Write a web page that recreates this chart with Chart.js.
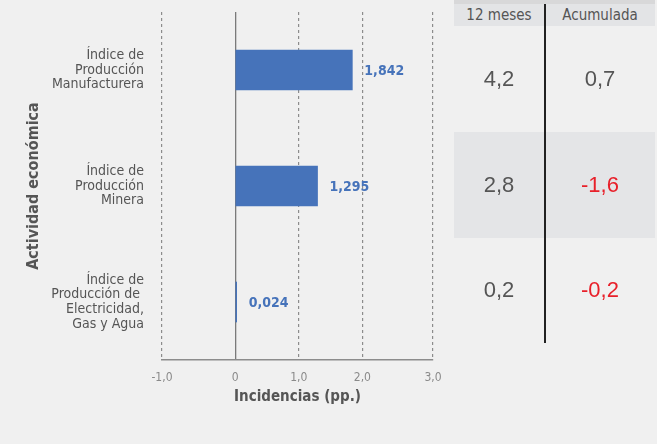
<!DOCTYPE html>
<html><head><meta charset="utf-8">
<script src="https://cdn.jsdelivr.net/npm/chart.js@4/dist/chart.umd.min.js"></script>
<style>
html,body{margin:0;padding:0;background:#f0f0f0;}
body{width:657px;height:444px;overflow:hidden;position:relative;}
#wrap{position:absolute;left:0;top:0;width:657px;height:444px;}
#tbl{position:absolute;left:454px;top:0;width:201px;height:344px;}
#tbl .band{position:absolute;left:0;top:0;width:201px;height:4px;background:#d8d8d9;}
#tbl .head{position:absolute;left:0;top:4px;width:201px;height:22px;background:#e3e4e6;}
#tbl .row{position:absolute;left:0;width:201px;height:106px;}
#tbl .shade{background:#e4e5e7;}
#tbl .cell{position:absolute;top:0;height:100%;display:flex;align-items:center;justify-content:center;}
#tbl .c0{left:0;width:90px;}
#tbl .c1{left:91px;width:110px;}
#tbl .h{font-family:"Liberation Sans Narrow","DejaVu Sans Condensed",Roboto,sans-serif;font-size:15px;color:#555;}
#tbl .v{font-family:"Liberation Sans",Arial,sans-serif;font-size:22px;color:#555;}
#tbl .neg{color:#e8202a;}
#tbl .divider{position:absolute;left:90px;top:4px;width:1.5px;height:339px;background:#222;}
</style></head><body>
<div id="wrap"><canvas id="c" width="657" height="444"></canvas></div>
<div id="tbl"></div>
<script>
const categories = [
  ['Índice de', 'Producción', 'Manufacturera'],
  ['Índice de', 'Producción', 'Minera'],
  ['Índice de', 'Producción de ', 'Electricidad,', 'Gas y Agua']
];
const incidencias = [1.842, 1.295, 0.024];
const xTickValues = [-1, 0, 1, 2, 3];
const xTickLabels = ['-1,0', '0', '1,0', '2,0', '3,0'];
const tableHeaders = ['12 meses', 'Acumulada'];
const var12Meses = [4.2, 2.8, 0.2];
const varAcumulada = [0.7, -1.6, -0.2];

const fmt = (v, d) => v.toFixed(d).replace('.', ',');
const condensed = '"Liberation Sans Narrow","DejaVu Sans Condensed",Roboto,sans-serif';

// Table (HTML text)
const tbl = document.getElementById('tbl');
let html = '<div class="band"></div><div class="head">' +
  '<div class="cell c0 h">' + tableHeaders[0] + '</div>' +
  '<div class="cell c1 h">' + tableHeaders[1] + '</div></div>';
var12Meses.forEach((v, i) => {
  const a = varAcumulada[i];
  html += '<div class="row' + (i === 1 ? ' shade' : '') + '" style="top:' + (26 + i * 105.7) + 'px">' +
    '<div class="cell c0 v' + (v < 0 ? ' neg' : '') + '">' + fmt(v, 1) + '</div>' +
    '<div class="cell c1 v' + (a < 0 ? ' neg' : '') + '">' + fmt(a, 1) + '</div></div>';
});
html += '<div class="divider"></div>';
tbl.innerHTML = html;

const valueLabelPlugin = {
  id: 'valueLabels',
  afterDatasetsDraw(chart) {
    const ctx = chart.ctx;
    const meta = chart.getDatasetMeta(0);
    ctx.save();
    ctx.font = 'bold 14px ' + condensed;
    ctx.fillStyle = '#4673ba';
    ctx.textAlign = 'left';
    ctx.textBaseline = 'middle';
    meta.data.forEach((bar, i) => {
      ctx.fillText(fmt(incidencias[i], 3), bar.x + 12, bar.y + 1);
    });
    ctx.restore();
  }
};

new Chart(document.getElementById('c'), {
  type: 'bar',
  data: {
    labels: categories,
    datasets: [{
      data: incidencias,
      backgroundColor: '#4673ba',
      barThickness: 40
    }]
  },
  options: {
    indexAxis: 'y',
    responsive: false,
    animation: false,
    layout: { padding: { top: 12, right: 224, bottom: 0, left: 0 } },
    plugins: { legend: { display: false }, tooltip: { enabled: false } },
    scales: {
      x: {
        min: -1.15,
        max: 3.11,
        afterBuildTicks(scale) {
          scale.ticks = xTickValues.map(v => ({
            value: v === xTickValues[0] ? scale.min : (v === xTickValues[xTickValues.length - 1] ? scale.max : v)
          }));
        },
        afterFit(scale) { scale.height = 84; scale.paddingLeft = 0; scale.paddingRight = 0; },
        ticks: {
          autoSkip: false,
          maxRotation: 0,
          padding: 11,
          color: '#8a8a8a',
          font: { family: condensed, size: 12 },
          callback: (val, i) => xTickLabels[i]
        },
        grid: {
          drawTicks: false,
          color: ctx => (ctx.tick && ctx.tick.value === 0) ? '#7a7a7a' : '#8c8c8c',
          lineWidth: ctx => (ctx.tick && ctx.tick.value === 0) ? 1.3 : 1.2
        },
        border: {
          display: true,
          color: '#8c8c8c',
          width: 1.5,
          dash: ctx => (ctx.tick && ctx.tick.value === 0) ? [] : [3, 3]
        },
        title: {
          display: true,
          text: 'Incidencias (pp.)',
          color: '#555',
          font: { family: condensed, size: 15, weight: 'bold' },
          padding: { top: 0, bottom: 38 }
        }
      },
      y: {
        afterFit(scale) { scale.width = 162; scale.paddingTop = 0; scale.paddingBottom = 0; },
        grid: { display: false, drawTicks: false },
        border: { display: false },
        ticks: {
          padding: 18,
          color: '#555',
          font: { family: condensed, size: 14, lineHeight: 1.05 }
        },
        title: {
          display: true,
          text: 'Actividad económica',
          color: '#555',
          font: { family: condensed, size: 16, weight: 'bold' },
          padding: { top: 24, bottom: 0 }
        }
      }
    }
  },
  plugins: [valueLabelPlugin]
});
</script>
</body></html>
